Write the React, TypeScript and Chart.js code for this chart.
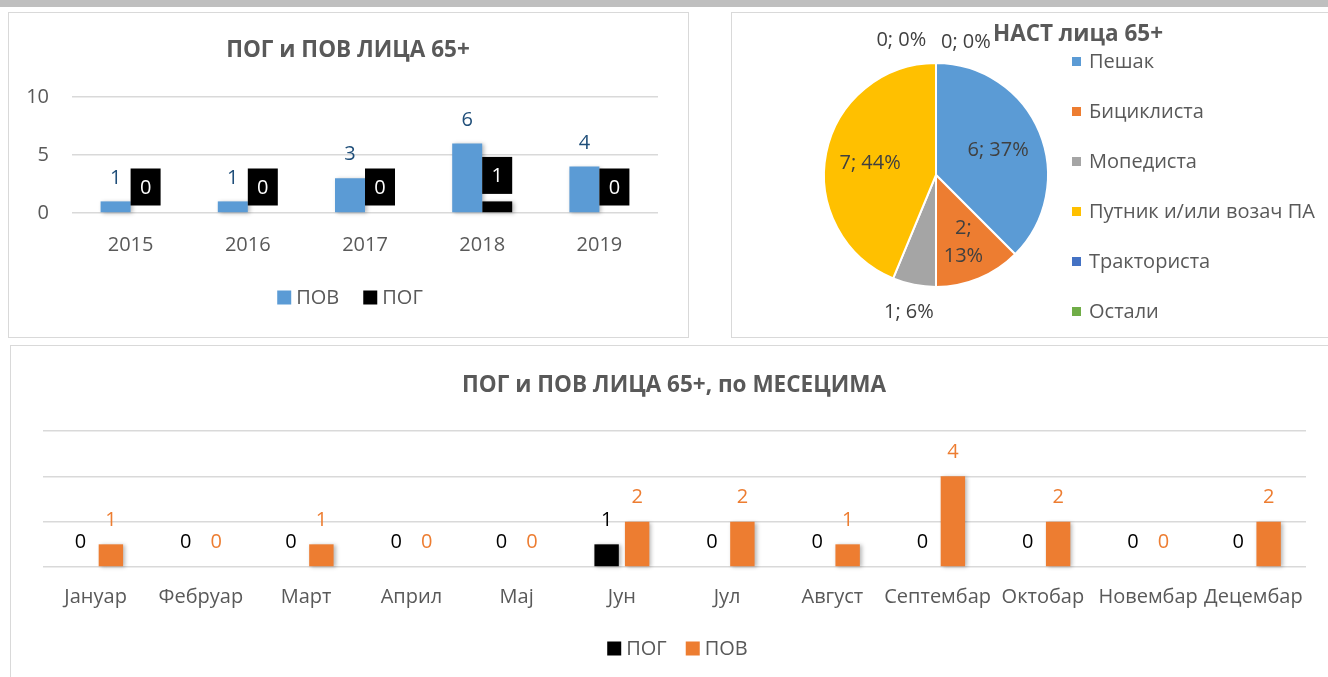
import React, { useEffect, useRef } from 'react';
import { Chart, registerables } from 'chart.js';

Chart.register(...registerables);

const FONT = "'Open Sans', 'Noto Sans', sans-serif";
const TEXT = '#595959';
Chart.defaults.font.family = FONT;

// ---- Chart 1: by year
const years = ['2015', '2016', '2017', '2018', '2019'];
const povYears = [1, 1, 3, 6, 4];
const pogYears = [0, 0, 0, 1, 0];
const yearTicks = [0, 5, 10];

// ---- Chart 2: road user type
const roadUsers = ['Пешак', 'Бициклиста', 'Мопедиста', 'Путник и/или возач ПА', 'Тракториста', 'Остали'];
const roadUserCounts = [6, 2, 1, 7, 0, 0];
const roadUserPct = ['37%', '13%', '6%', '44%', '0%', '0%'];
const roadUserColors = ['#5b9bd5', '#ed7d31', '#a5a5a5', '#ffc000', '#4472c4', '#70ad47'];

// ---- Chart 3: by month
const months = ['Јануар', 'Фебруар', 'Март', 'Април', 'Мај', 'Јун', 'Јул', 'Август', 'Септембар', 'Октобар', 'Новембар', 'Децембар'];
const pogMonths = [0, 0, 0, 0, 0, 1, 0, 0, 0, 0, 0, 0];
const povMonths = [1, 0, 1, 0, 0, 2, 2, 1, 4, 2, 0, 2];
const monthTicks = [0, 2, 4, 6];

const shadowPlugin = {
  id: 'softShadow',
  beforeDatasetsDraw(chart: any, _a: any, opts: any) {
    const ctx = chart.ctx;
    ctx.save();
    ctx.shadowColor = opts.color || 'rgba(0,0,0,0.3)';
    ctx.shadowBlur = opts.blur ?? 4;
    ctx.shadowOffsetX = opts.dx ?? 2;
    ctx.shadowOffsetY = opts.dy ?? 1;
  },
  afterDatasetsDraw(chart: any) {
    chart.ctx.restore();
  },
};

const valueLabels = {
  id: 'valueLabels',
  afterDraw(chart: any, _a: any, opts: any) {
    const ctx = chart.ctx;
    const styles = opts.styles || [];
    chart.data.datasets.forEach((ds: any, di: number) => {
      const meta = chart.getDatasetMeta(di);
      const st = styles[di];
      if (!st || meta.hidden) return;
      meta.data.forEach((el: any, i: number) => {
        const v = ds.data[i];
        const x = el.x;
        const y = el.y - st.offset;
        ctx.save();
        if (st.box) {
          ctx.fillStyle = st.box;
          const w = el.width;
          ctx.fillRect(x - w / 2, y - st.boxH / 2, w, st.boxH);
        }
        ctx.font = `${st.size}px ${FONT}`;
        ctx.fillStyle = st.color;
        ctx.textAlign = 'center';
        ctx.textBaseline = 'middle';
        ctx.fillText(String(v), x, y + 1);
        ctx.restore();
      });
    });
  },
};

// Legend row drawn from the datasets (label + colour), centred at cx
const rowLegend = {
  id: 'rowLegend',
  afterDraw(chart: any, _a: any, opts: any) {
    const ctx = chart.ctx;
    const items = chart.data.datasets.map((ds: any) => ({ text: ds.label, color: ds.backgroundColor }));
    ctx.save();
    ctx.font = `20px ${FONT}`;
    ctx.textBaseline = 'middle';
    ctx.textAlign = 'left';
    const widths = items.map((it: any) => opts.box + opts.textGap + ctx.measureText(it.text).width);
    const total = widths.reduce((a: number, b: number) => a + b, 0) + opts.itemGap * (items.length - 1);
    let x = opts.cx - total / 2;
    items.forEach((it: any, i: number) => {
      ctx.fillStyle = it.color;
      ctx.fillRect(x, opts.cy - opts.box / 2, opts.box, opts.box);
      ctx.fillStyle = TEXT;
      ctx.fillText(it.text, x + opts.box + opts.textGap, opts.cy + 1);
      x += widths[i] + opts.itemGap;
    });
    ctx.restore();
  },
};

const pieDecor = {
  id: 'pieDecor',
  afterDraw(chart: any, _a: any, opts: any) {
    const ctx = chart.ctx;
    const ds = chart.data.datasets[0];
    const meta = chart.getDatasetMeta(0);
    const total = ds.data.reduce((a: number, b: number) => a + b, 0);
    ctx.save();
    ctx.font = `20px ${FONT}`;
    ctx.fillStyle = '#404040';
    ctx.textAlign = 'center';
    ctx.textBaseline = 'middle';
    let zeroIdx = 0;
    meta.data.forEach((arc: any, i: number) => {
      const p = arc.getProps(['x', 'y', 'startAngle', 'endAngle', 'outerRadius'], true);
      const v = ds.data[i];
      const frac = v / total;
      let ang = (p.startAngle + p.endAngle) / 2;
      let r: number;
      let lines: string[];
      const text = `${v}; ${opts.pct[i]}`;
      if (frac >= 0.2) {
        r = p.outerRadius * 0.6;
        lines = [text];
      } else if (frac >= 0.1) {
        r = p.outerRadius * 0.64;
        lines = [`${v};`, opts.pct[i]];
      } else if (frac > 0) {
        r = p.outerRadius + 27;
        lines = [text];
      } else {
        r = p.outerRadius + (zeroIdx === 0 ? 28 : 25);
        ang += zeroIdx === 0 ? -0.25 : 0.22;
        zeroIdx++;
        lines = [text];
      }
      const px = p.x + Math.cos(ang) * r;
      const py = p.y + Math.sin(ang) * r;
      const gap = 28;
      lines.forEach((ln, k) => {
        ctx.fillText(ln, px, py + (k - (lines.length - 1) / 2) * gap + 1);
      });
    });
    ctx.font = `bold 22.5px ${FONT}`;
    ctx.fillStyle = TEXT;
    ctx.fillText(opts.title, opts.titleX, opts.titleY);
    ctx.textAlign = 'left';
    ctx.font = `20px ${FONT}`;
    chart.data.labels.forEach((lab: string, i: number) => {
      const cy = opts.legendTop + i * opts.legendGap;
      ctx.fillStyle = ds.backgroundColor[i];
      ctx.fillRect(opts.legendLeft, cy - 4.5, 9, 9);
      ctx.fillStyle = TEXT;
      ctx.fillText(lab, opts.legendLeft + 17, cy + 1);
    });
    ctx.restore();
  },
};

export default function App() {
  const r1 = useRef<HTMLCanvasElement>(null);
  const r2 = useRef<HTMLCanvasElement>(null);
  const r3 = useRef<HTMLCanvasElement>(null);

  useEffect(() => {
    const c1 = new Chart(r1.current as HTMLCanvasElement, {
      type: 'bar',
      data: {
        labels: years,
        datasets: [
          { label: 'ПОВ', data: povYears, backgroundColor: '#5b9bd5', categoryPercentage: 0.512, barPercentage: 1, clip: false } as any,
          { label: 'ПОГ', data: pogYears, backgroundColor: '#000000', categoryPercentage: 0.512, barPercentage: 1, clip: false } as any,
        ],
      },
      options: {
        responsive: false,
        animation: false,
        layout: { padding: { left: 0, right: 0, top: 0, bottom: 73 } },
        scales: {
          x: {
            grid: { display: false },
            border: { display: false },
            ticks: { color: TEXT, font: { size: 20 }, padding: 12.5 },
            afterFit: (s: any) => { s.height = 50; },
          },
          y: {
            min: 0,
            max: 10,
            grid: { color: '#d9d9d9', lineWidth: 1.5, drawTicks: false },
            border: { display: false },
            ticks: { color: TEXT, font: { size: 20 }, padding: 23 },
            afterBuildTicks: (s: any) => { s.ticks = yearTicks.map((v) => ({ value: v })); },
            afterFit: (s: any) => { s.width = 63; },
          },
          yRight: {
            position: 'right',
            grid: { display: false },
            border: { display: false },
            ticks: { display: false },
            afterFit: (s: any) => { s.width = 29; },
          },
        },
        plugins: {
          title: {
            display: true,
            text: 'ПОГ и ПОВ ЛИЦА 65+',
            color: TEXT,
            font: { size: 22.5, weight: 'bold' },
            padding: { top: 24.5, bottom: 32.5 },
          },
          legend: { display: false },
          tooltip: { enabled: false },
          valueLabels: {
            styles: [
              { color: '#1f4e79', offset: 24.5, size: 20 },
              { color: '#ffffff', box: '#000000', boxH: 37, offset: 26, size: 20 },
            ],
          },
          rowLegend: { cx: 341, cy: 284.5, box: 14, textGap: 5, itemGap: 24 },
          softShadow: { color: 'rgba(0,0,0,0.28)', blur: 4, dx: 2, dy: 1 },
        } as any,
      } as any,
      plugins: [shadowPlugin, valueLabels, rowLegend],
    });

    const c2 = new Chart(r2.current as HTMLCanvasElement, {
      type: 'pie',
      data: {
        labels: roadUsers,
        datasets: [
          {
            data: roadUserCounts,
            backgroundColor: roadUserColors,
            borderColor: '#ffffff',
            borderWidth: 2,
          },
        ],
      },
      options: {
        responsive: false,
        animation: false,
        layout: { padding: { left: 91, right: 279, top: 49, bottom: 49 } },
        plugins: {
          legend: { display: false },
          title: { display: false },
          tooltip: { enabled: false },
          pieDecor: {
            pct: roadUserPct,
            title: 'НАСТ лица 65+',
            titleX: 346,
            titleY: 22,
            legendLeft: 340,
            legendTop: 48.5,
            legendGap: 50,
          },
        } as any,
      },
      plugins: [pieDecor],
    });

    const c3 = new Chart(r3.current as HTMLCanvasElement, {
      type: 'bar',
      data: {
        labels: months,
        datasets: [
          { label: 'ПОГ', data: pogMonths, backgroundColor: '#000000', categoryPercentage: 0.58, barPercentage: 0.8, clip: false } as any,
          { label: 'ПОВ', data: povMonths, backgroundColor: '#ed7d31', categoryPercentage: 0.58, barPercentage: 0.8, clip: false } as any,
        ],
      },
      options: {
        responsive: false,
        animation: false,
        layout: { padding: { left: 0, right: 0, top: 0, bottom: 56.5 } },
        scales: {
          x: {
            grid: { display: false },
            border: { display: false },
            ticks: { color: TEXT, font: { size: 20 }, padding: 10, maxRotation: 0, autoSkip: false },
            afterFit: (s: any) => { s.height = 53.5; },
          },
          y: {
            min: 0,
            max: 6,
            grid: { color: '#d9d9d9', lineWidth: 1.5, drawTicks: false },
            border: { display: false },
            ticks: { display: false },
            afterBuildTicks: (s: any) => { s.ticks = monthTicks.map((v) => ({ value: v })); },
            afterFit: (s: any) => { s.width = 32; },
          },
          yRight: {
            position: 'right',
            grid: { display: false },
            border: { display: false },
            ticks: { display: false },
            afterFit: (s: any) => { s.width = 31; },
          },
        },
        plugins: {
          title: {
            display: true,
            text: 'ПОГ и ПОВ ЛИЦА 65+, по МЕСЕЦИМА',
            color: TEXT,
            font: { size: 22.5, weight: 'bold' },
            padding: { top: 26, bottom: 32 },
          },
          legend: { display: false },
          tooltip: { enabled: false },
          valueLabels: {
            styles: [
              { color: '#000000', offset: 25.5, size: 20 },
              { color: '#ed7d31', offset: 25.5, size: 20 },
            ],
          },
          rowLegend: { cx: 666.5, cy: 302.5, box: 14, textGap: 5, itemGap: 19 },
          softShadow: { color: 'rgba(0,0,0,0.28)', blur: 4, dx: 2, dy: 1 },
        } as any,
      } as any,
      plugins: [shadowPlugin, valueLabels, rowLegend],
    });

    return () => {
      c1.destroy();
      c2.destroy();
      c3.destroy();
    };
  }, []);

  const abs = (o: React.CSSProperties): React.CSSProperties => ({ position: 'absolute', boxSizing: 'border-box', ...o });

  return (
    <div style={abs({ left: 0, top: 0, width: 1328, height: 677, overflow: 'hidden', background: '#ffffff', fontFamily: FONT })}>
      <div style={abs({ left: 0, top: 0, width: 1328, height: 7, background: '#bfbfbf' })} />
      <div style={abs({ left: 8, top: 12, width: 681, height: 326, border: '1px solid #d9d9d9' })} />
      <div style={abs({ left: 731, top: 12, width: 700, height: 326, border: '1px solid #d9d9d9' })} />
      <div style={abs({ left: 10, top: 345, width: 1400, height: 400, border: '1px solid #d9d9d9' })} />
      <canvas ref={r1} width={678} height={323} style={abs({ left: 9, top: 13, display: 'block' })} />
      <canvas ref={r2} width={596} height={324} style={abs({ left: 732, top: 13, display: 'block' })} />
      <canvas ref={r3} width={1326} height={331} style={abs({ left: 11, top: 346, display: 'block' })} />
    </div>
  );
}
